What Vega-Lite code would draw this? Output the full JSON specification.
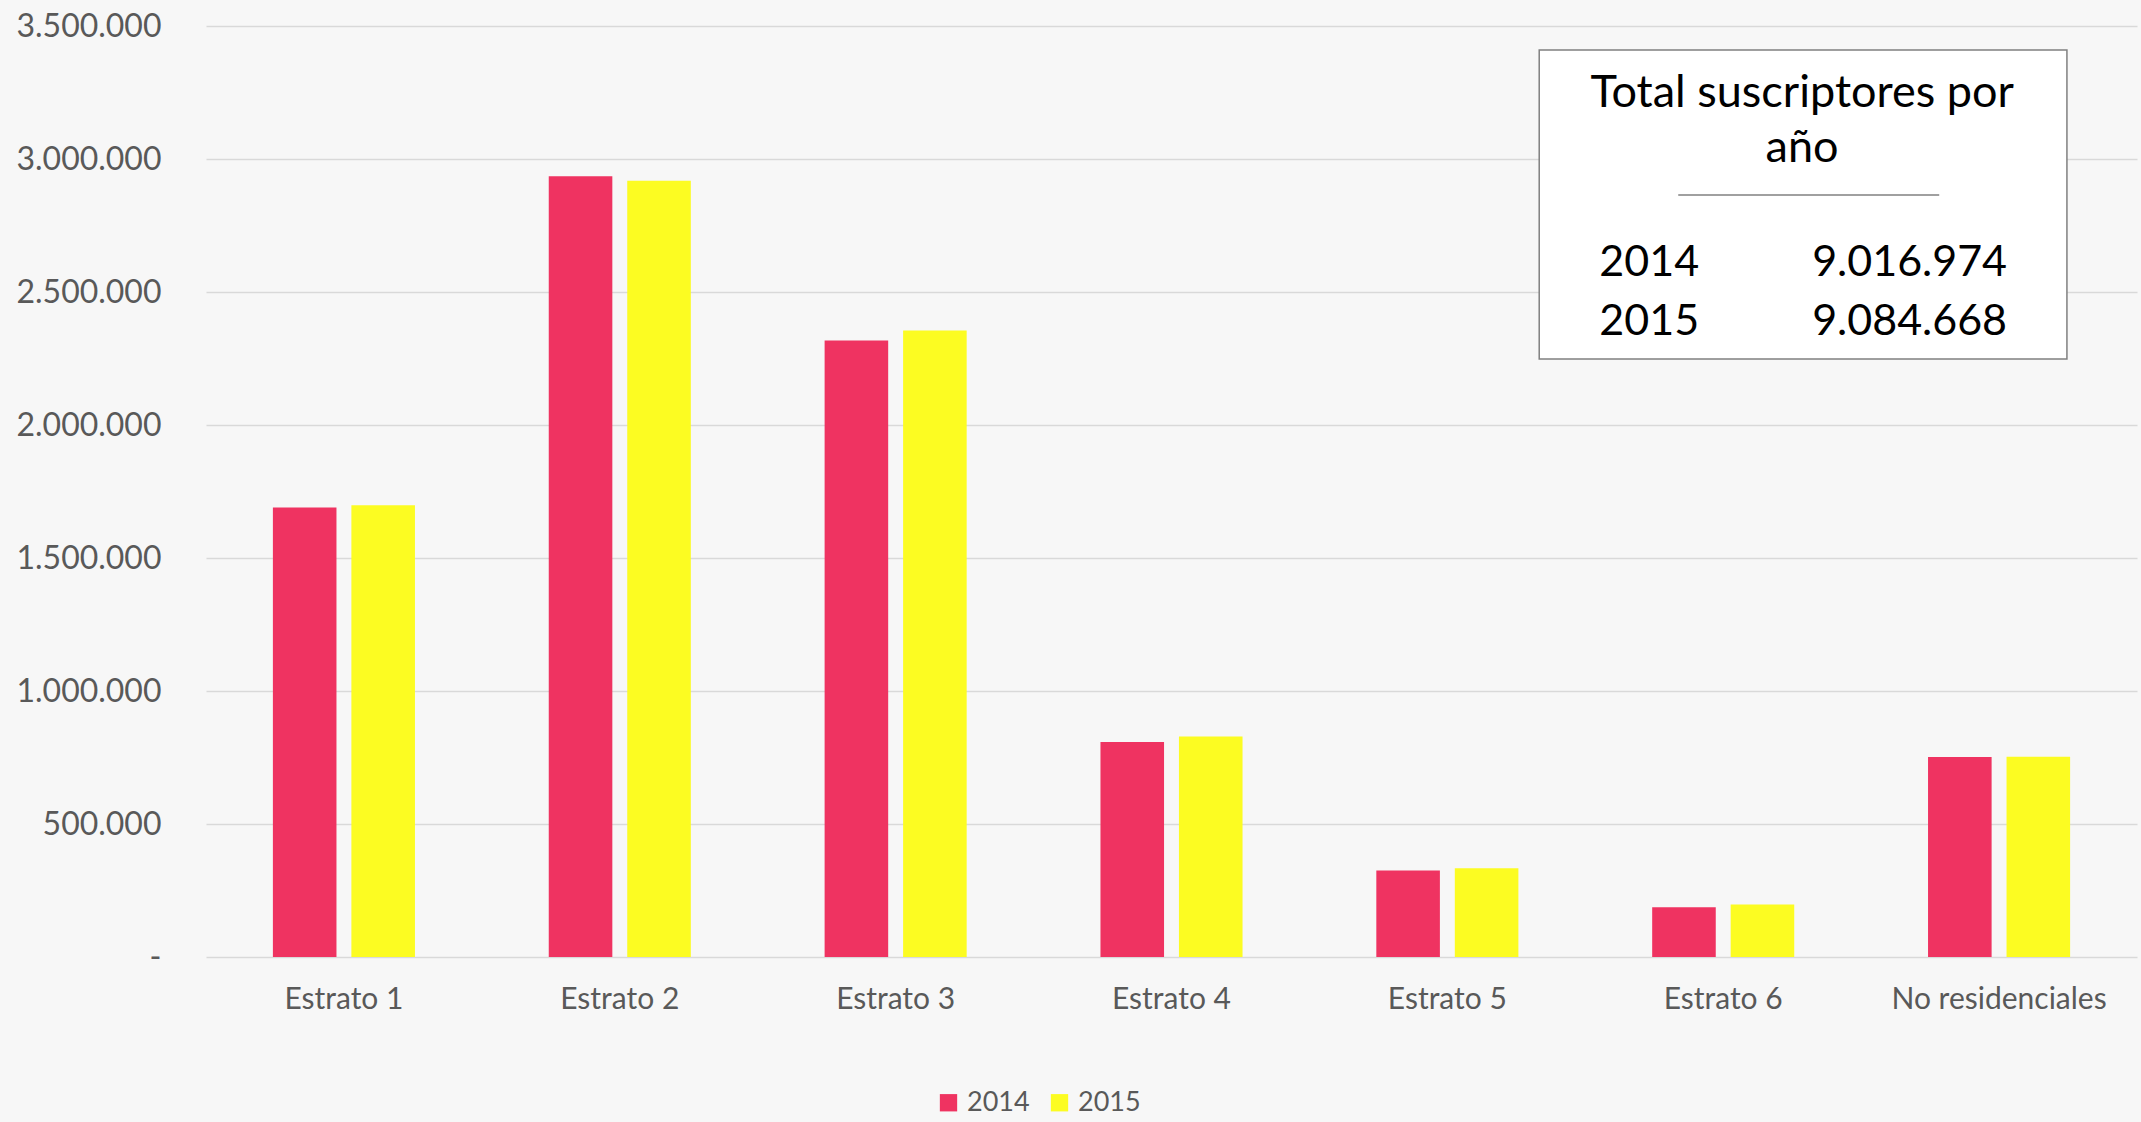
{
  "$schema": "https://vega.github.io/schema/vega-lite/v6.json",
  "width": 1931,
  "height": 931,
  "autosize": {"type": "none"},
  "padding": {"left": 206, "top": 26, "right": 4, "bottom": 165},
  "background": "#f7f7f7",
  "config": {
    "view": {"stroke": null},
    "font": "Lato",
    "locale": {"number": {"decimal": ",", "thousands": ".", "grouping": [3], "currency": ["$", ""]}}
  },
  "datasets": {
    "main": [
      {"Categoria": "Estrato 1", "Año": "2014", "Suscriptores": 1690000},
      {"Categoria": "Estrato 1", "Año": "2015", "Suscriptores": 1698000},
      {"Categoria": "Estrato 2", "Año": "2014", "Suscriptores": 2935000},
      {"Categoria": "Estrato 2", "Año": "2015", "Suscriptores": 2918000},
      {"Categoria": "Estrato 3", "Año": "2014", "Suscriptores": 2318000},
      {"Categoria": "Estrato 3", "Año": "2015", "Suscriptores": 2355000},
      {"Categoria": "Estrato 4", "Año": "2014", "Suscriptores": 808000},
      {"Categoria": "Estrato 4", "Año": "2015", "Suscriptores": 829000},
      {"Categoria": "Estrato 5", "Año": "2014", "Suscriptores": 325000},
      {"Categoria": "Estrato 5", "Año": "2015", "Suscriptores": 334000},
      {"Categoria": "Estrato 6", "Año": "2014", "Suscriptores": 187000},
      {"Categoria": "Estrato 6", "Año": "2015", "Suscriptores": 197000},
      {"Categoria": "No residenciales", "Año": "2014", "Suscriptores": 752000},
      {"Categoria": "No residenciales", "Año": "2015", "Suscriptores": 753000}
    ],
    "totales": [
      {"Año": "2014", "Total": 9016974},
      {"Año": "2015", "Total": 9084668}
    ],
    "caja": [
      {"Titulo": "Total suscriptores por", "Titulo2": "año"}
    ]
  },
  "layer": [
    {
      "data": {"name": "main"},
      "mark": {"type": "bar"},
      "encoding": {
        "x": {
          "field": "Categoria", "type": "nominal", "sort": null,
          "scale": {"paddingInner": 0.485, "paddingOuter": 0.2425},
          "axis": {
            "title": null, "labelAngle": 0, "ticks": false, "domain": false, "labelLimit": 0,
            "labelFontSize": 30, "labelColor": "#595959", "labelPadding": 27
          }
        },
        "xOffset": {"field": "Año", "type": "nominal", "scale": {"paddingInner": 0.19, "paddingOuter": 0}},
        "y": {
          "field": "Suscriptores", "type": "quantitative",
          "scale": {"domain": [0, 3500000], "nice": false},
          "axis": {
            "title": null, "values": [0, 500000, 1000000, 1500000, 2000000, 2500000, 3000000, 3500000],
            "labelExpr": "datum.value == 0 ? '-' : format(datum.value, ',.0f')",
            "ticks": false, "domain": false, "grid": true, "gridColor": "#d9d9d9", "gridWidth": 1.5,
            "labelFontSize": 32, "labelColor": "#595959", "labelPadding": 45
          }
        },
        "color": {
          "field": "Año", "type": "nominal",
          "scale": {"domain": ["2014", "2015"], "range": ["#ef3361", "#fcfc22"]},
          "legend": {
            "title": null, "orient": "none", "direction": "horizontal",
            "legendX": 729, "legendY": 1063,
            "symbolType": "square", "symbolSize": 300, "symbolStrokeWidth": 0,
            "labelFontSize": 27, "labelColor": "#595959", "labelOffset": 5, "columnPadding": 16
          }
        }
      }
    },
    {
      "data": {"name": "caja"},
      "layer": [
        {
          "mark": {"type": "rect", "fill": "white", "stroke": "#808080", "strokeWidth": 1.5},
          "encoding": {
            "x": {"datum": 4.833, "type": "quantitative", "scale": {"domain": [0, 7]}, "axis": null},
            "x2": {"datum": 6.746},
            "y": {"datum": 3410000, "type": "quantitative"},
            "y2": {"datum": 2248000}
          }
        },
        {
          "mark": {"type": "rule", "stroke": "#808080", "strokeWidth": 1.5},
          "encoding": {
            "x": {"datum": 5.337, "type": "quantitative", "scale": {"domain": [0, 7]}, "axis": null},
            "x2": {"datum": 6.283},
            "y": {"datum": 2865000, "type": "quantitative"}
          }
        },
        {
          "mark": {"type": "text", "fontSize": 45, "color": "black", "align": "center", "baseline": "middle"},
          "encoding": {
            "x": {"datum": 5.786, "type": "quantitative", "scale": {"domain": [0, 7]}, "axis": null},
            "y": {"datum": 3250000, "type": "quantitative"},
            "text": {"field": "Titulo"}
          }
        },
        {
          "mark": {"type": "text", "fontSize": 45, "color": "black", "align": "center", "baseline": "middle"},
          "encoding": {
            "x": {"datum": 5.786, "type": "quantitative", "scale": {"domain": [0, 7]}, "axis": null},
            "y": {"datum": 3043000, "type": "quantitative"},
            "text": {"field": "Titulo2"}
          }
        }
      ],
      "resolve": {"scale": {"x": "independent"}}
    },
    {
      "data": {"name": "totales"},
      "transform": [{"filter": "datum['Año'] == '2014'"}],
      "layer": [
        {
          "mark": {"type": "text", "fontSize": 43, "color": "black", "align": "left", "baseline": "middle"},
          "encoding": {
            "x": {"datum": 5.051, "type": "quantitative", "scale": {"domain": [0, 7]}, "axis": null},
            "y": {"datum": 2609000, "type": "quantitative"},
            "text": {"field": "Año"}
          }
        },
        {
          "mark": {"type": "text", "fontSize": 43, "color": "black", "align": "right", "baseline": "middle"},
          "encoding": {
            "x": {"datum": 6.529, "type": "quantitative", "scale": {"domain": [0, 7]}, "axis": null},
            "y": {"datum": 2609000, "type": "quantitative"},
            "text": {"field": "Total", "format": ",.0f"}
          }
        }
      ]
    },
    {
      "data": {"name": "totales"},
      "transform": [{"filter": "datum['Año'] == '2015'"}],
      "layer": [
        {
          "mark": {"type": "text", "fontSize": 43, "color": "black", "align": "left", "baseline": "middle"},
          "encoding": {
            "x": {"datum": 5.051, "type": "quantitative", "scale": {"domain": [0, 7]}, "axis": null},
            "y": {"datum": 2387000, "type": "quantitative"},
            "text": {"field": "Año"}
          }
        },
        {
          "mark": {"type": "text", "fontSize": 43, "color": "black", "align": "right", "baseline": "middle"},
          "encoding": {
            "x": {"datum": 6.529, "type": "quantitative", "scale": {"domain": [0, 7]}, "axis": null},
            "y": {"datum": 2387000, "type": "quantitative"},
            "text": {"field": "Total", "format": ",.0f"}
          }
        }
      ]
    }
  ],
  "resolve": {"scale": {"x": "independent"}}
}
